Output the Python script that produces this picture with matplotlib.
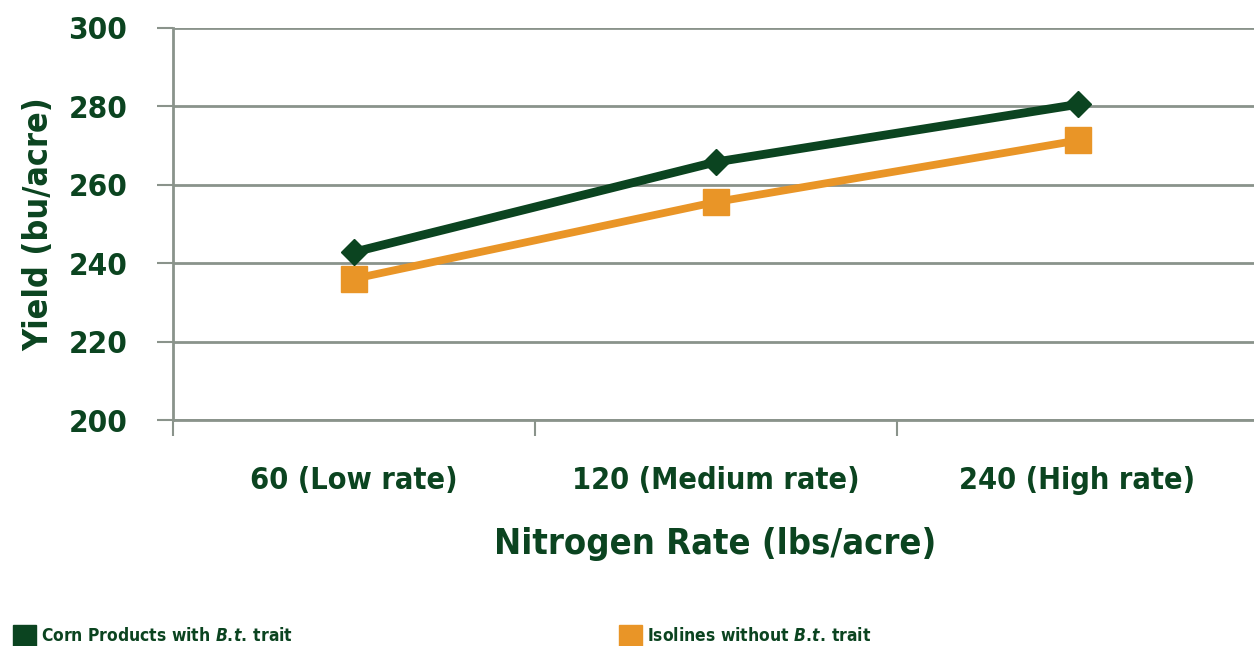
import matplotlib
matplotlib.use("Agg")
import matplotlib.pyplot as plt
from matplotlib import font_manager
from matplotlib.patches import Patch

# nitrogen rate categories and yields (bu/acre)
categories = ["60 (Low rate)", "120 (Medium rate)", "240 (High rate)"]
bt_yield = [242.8, 265.8, 280.5]
isoline_yield = [236.0, 255.6, 271.3]
series_names = ["Corn Products with $\\it{B.}\\!\\it{t.}\\!$ trait",
                "Isolines without $\\it{B.}\\!\\it{t.}\\!$ trait"]
y_ticks = [200, 220, 240, 260, 280, 300]

GREEN = "#0b4420"
ORANGE = "#e99527"
GRID = "#8a938b"

# prefer a narrow face if one is installed
names = {f.name for f in font_manager.fontManager.ttflist}
FONT = "Liberation Sans Narrow" if "Liberation Sans Narrow" in names else "DejaVu Sans"
plt.rcParams["font.family"] = [FONT, "DejaVu Sans"]
plt.rcParams["font.stretch"] = "condensed"
plt.rcParams["mathtext.fontset"] = "custom"
plt.rcParams["mathtext.it"] = FONT + ":italic:bold"
plt.rcParams["mathtext.rm"] = FONT + ":bold"

fig = plt.figure(figsize=(12.54, 6.46), dpi=100)
ax = fig.add_axes([0.1376, 0.3498, 0.866, 0.6069])

x = range(len(categories))
ax.plot(x, bt_yield, color=GREEN, lw=6.3, marker="D", ms=13.5,
        mec=GREEN, mfc=GREEN, zorder=4)
ax.plot(x, isoline_yield, color=ORANGE, lw=5.6, marker="s", ms=19,
        mec=ORANGE, mfc=ORANGE, zorder=3)

ax.set_xlim(-0.5, 2.5)
ax.set_ylim(200, 300)
ax.set_yticks(y_ticks)
ax.grid(axis="y", color=GRID, lw=2)
ax.set_axisbelow(True)

# category boundaries carry the tick marks, labels sit at the centres
ax.set_xticks([-0.5, 0.5, 1.5, 2.5])
ax.set_xticklabels([])
ax.set_xticks(list(x), minor=True)
ax.set_xticklabels(categories, minor=True)
ax.tick_params(axis="x", which="major", length=11.5, width=1.5, color=GRID)
ax.tick_params(axis="x", which="minor", length=0, pad=33,
               labelsize=22, labelcolor=GREEN)
ax.tick_params(axis="y", length=11.5, width=1.5, color=GRID, pad=21,
               labelsize=22.5, labelcolor=GREEN)
for lab in ax.get_xticklabels(minor=True) + ax.get_yticklabels():
    lab.set_fontweight("bold")

for s in ["top", "right"]:
    ax.spines[s].set_visible(False)
for s in ["left", "bottom"]:
    ax.spines[s].set_color(GRID)
    ax.spines[s].set_linewidth(2)

ax.set_ylabel("Yield (bu/acre)", fontsize=24.5, fontweight="bold", color=GREEN)
ax.yaxis.set_label_coords(-0.108, 0.5)
ax.set_xlabel("Nitrogen Rate (lbs/acre)", fontsize=26, fontweight="bold",
              color=GREEN)
ax.xaxis.set_label_coords(0.5, -0.272)

handles = [Patch(color=GREEN), Patch(color=ORANGE)]
fig.legend(handles, series_names, loc="lower left",
           bbox_to_anchor=(0.0104, 0.0), ncol=2, frameon=False,
           labelcolor=GREEN, handlelength=1.3, handleheight=1.45,
           handletextpad=0.3, columnspacing=18.8, borderpad=0.0,
           borderaxespad=0.0, prop={"weight": "bold", "size": 12.5})

fig.savefig("out.png", dpi=100)
